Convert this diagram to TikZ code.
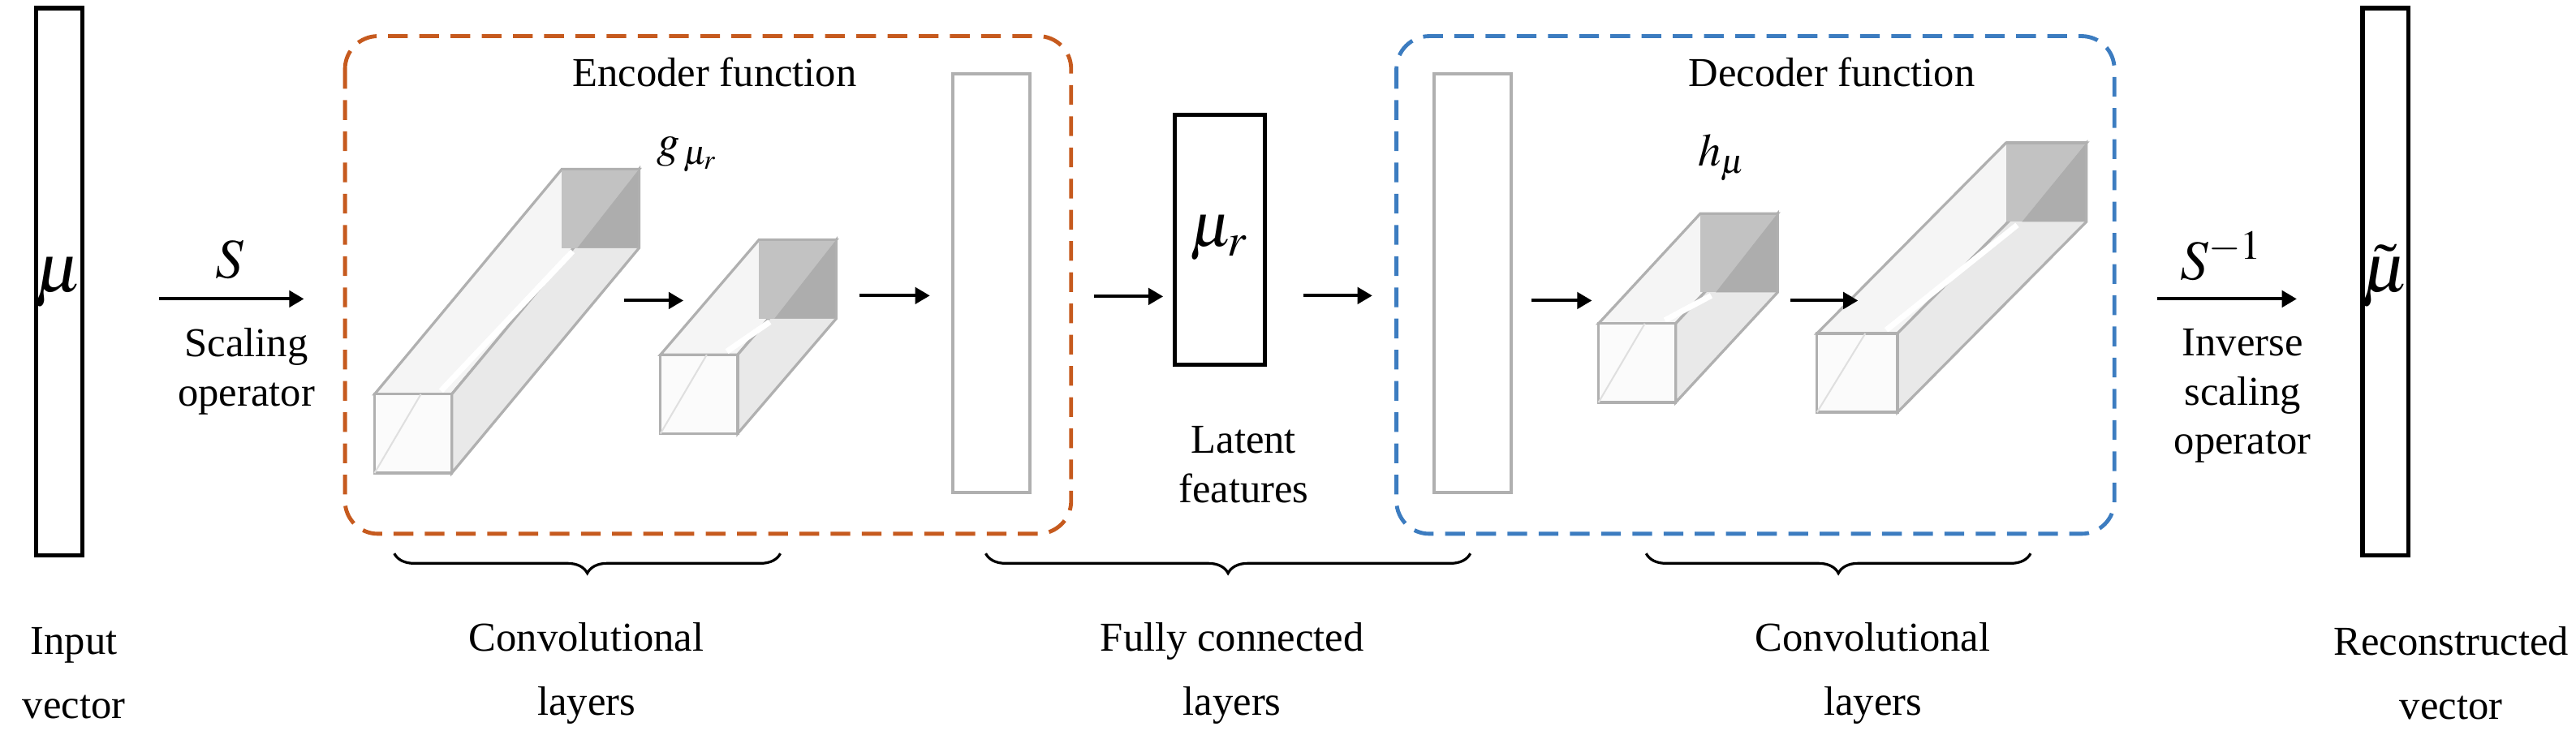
\documentclass[tikz,border=0pt]{standalone}
\usepackage{mathptmx}
\usepackage[no-math]{fontspec}
\setmainfont{Liberation Serif}
\usetikzlibrary{decorations.pathreplacing,arrows.meta}
\definecolor{encc}{HTML}{C65A1E}
\definecolor{decc}{HTML}{3C7CC0}
\definecolor{edge}{HTML}{B0B0B0}
\tikzset{
  lbl/.style={font=\fontsize{25}{30}\selectfont, align=center, inner sep=0pt},
  lblb/.style={font=\fontsize{25}{39}\selectfont, align=center, inner sep=0pt},
  vec/.style={draw=black, line width=2.6pt, inner sep=0pt},
  fc/.style={draw=edge, line width=2pt, inner sep=0pt},
  arr/.style={-{Triangle[length=9pt,width=10pt]}, line width=2pt},
  frame/.style={dashed, dash pattern=on 12pt off 7pt, line width=2.4pt, rounded corners=20pt},
  brc/.style={decorate, decoration={brace, amplitude=12pt, mirror}, line width=1.6pt},
}
% box: #1 x, #2 y (front top-left), #3 w, #4 h, #5 dx, #6 dy
\newcommand{\mybox}[6]{%
  \filldraw[fill=gray!8, draw=edge, line width=1.6pt]
     (#1,#2) -- (#1+#3,#2) -- (#1+#3+#5,#2+#6) -- (#1+#5,#2+#6) -- cycle;
  \filldraw[fill=gray!17, draw=edge, line width=1.6pt]
     (#1+#3,#2) -- (#1+#3,#2+#4) -- (#1+#3+#5,#2+#4+#6) -- (#1+#3+#5,#2+#6) -- cycle;
  \draw[white, line width=3.5pt] (#1+#3*0.86,#2-2) -- (#1+#5+#3*0.14,#2+#6+#4+2);
  \fill[gray!48] (#1+#5,#2+#6) rectangle (#1+#5+#3,#2+#6+#4);
  \fill[gray!64] (#1+#5+#3,#2+#6) -- (#1+#5+#3,#2+#6+#4) -- (#1+#5+#3*0.2,#2+#6+#4) -- cycle;
  \draw[edge,line width=1.6pt] (#1+#5,#2+#6) -- (#1+#5+#3,#2+#6) -- (#1+#5+#3,#2+#6+#4);
  \filldraw[fill=gray!3, draw=edge, line width=1.6pt] (#1,#2) rectangle (#1+#3,#2+#4);
  \draw[gray!25, line width=1pt] (#1,#2+#4) -- (#1+#3*0.6,#2);
}
\begin{document}
\begin{tikzpicture}[x=1pt,y=-1pt]
\useasboundingbox (0,0) rectangle (1568,453);
% input / output vectors
\node[vec, minimum width=28pt, minimum height=333pt] (in) at (36,171.5) {};
\node[font=\fontsize{42}{50}\selectfont] (mu) at (36,172) {$\mu$};
\node[vec, minimum width=28pt, minimum height=333pt] (out) at (1452,171.5) {};
\node[font=\fontsize{42}{50}\selectfont] (mut) at (1452,168) {$\tilde{\mu}$};
% S arrows
\coordinate (s1) at (97,182); \coordinate (s2) at (185,182);
\draw[arr] (s1) -- (s2);
\node[font=\fontsize{34}{40}\selectfont] (S) at (140,158) {$S$};
\node[lbl] (scal) at (150,226) {Scaling\\operator};
\coordinate (t1) at (1313,182); \coordinate (t2) at (1398,182);
\draw[arr] (t1) -- (t2);
\node[font=\fontsize{34}{40}\selectfont] (Si) at (1352,156) {$S^{-1}$};
\node[lbl] (iscal) at (1365,241) {Inverse\\scaling\\operator};
% frames
\draw[frame, encc] (210,22) rectangle (652,325);
\draw[frame, decc] (850,22) rectangle (1287,325);
\node[lbl] (enc) at (435,44) {Encoder function};
\node[lbl] (dec) at (1115,44) {Decoder function};
\node[font=\fontsize{28}{34}\selectfont] (g) at (418,94) {$g_{\,\mu_r}$};
\node[font=\fontsize{28}{34}\selectfont] (h) at (1048,96) {$h_{\mu}$};
% 3D boxes
\mybox{228}{240}{47}{48}{114}{-137}
\mybox{402}{216}{47}{48}{60}{-70}
\mybox{973}{197}{47}{48}{62}{-67}
\mybox{1106}{203}{49}{48}{115}{-116}
% fully connected
\node[fc, minimum width=47pt, minimum height=255pt] (fc1) at (603.5,172.5) {};
\node[fc, minimum width=47pt, minimum height=255pt] (fc2) at (896.5,172.5) {};
\node[vec, minimum width=55pt, minimum height=152pt] (lat) at (742.5,146) {};
\node[font=\fontsize{38}{46}\selectfont] (mur) at (742,145) {$\mu_r$};
\node[lbl] (latl) at (757,283) {Latent\\features};
% arrows
\coordinate (a1) at (380,183); \coordinate (a2) at (416,183);
\coordinate (a3) at (523,180); \coordinate (a4) at (566,180);
\coordinate (a5) at (932,183); \coordinate (a6) at (969,183);
\coordinate (a7) at (1090,183); \coordinate (a8) at (1131,183);
\draw[arr] (a1) -- (a2);
\draw[arr] (a3) -- (a4);
\draw[arr] (fc1.east) ++(38,8) coordinate (b1) -- ++(42,0) coordinate (b2);
\draw[arr] (lat.east) ++(22,34) coordinate (c1) -- ++(42,0) coordinate (c2);
\draw[arr] (a5) -- (a6);
\draw[arr] (a7) -- (a8);
% braces
\coordinate (br1a) at (240,337); \coordinate (br1b) at (475,337);
\coordinate (br2a) at (600,337); \coordinate (br2b) at (895,337);
\coordinate (br3a) at (1002,337); \coordinate (br3b) at (1236,337);
\draw[brc] (br1a) -- (br1b);
\draw[brc] (br2a) -- (br2b);
\draw[brc] (br3a) -- (br3b);
% bottom labels
\node[lblb] (inl) at (45,410) {Input\\vector};
\node[lblb] (cl1) at (357,410) {Convolutional\\layers};
\node[lblb] (fcl) at (750,410) {Fully connected\\layers};
\node[lblb] (cl2) at (1140,410) {Convolutional\\layers};
\node[lblb] (outl) at (1492,410) {Reconstructed\\vector};
\end{tikzpicture}
\end{document}
